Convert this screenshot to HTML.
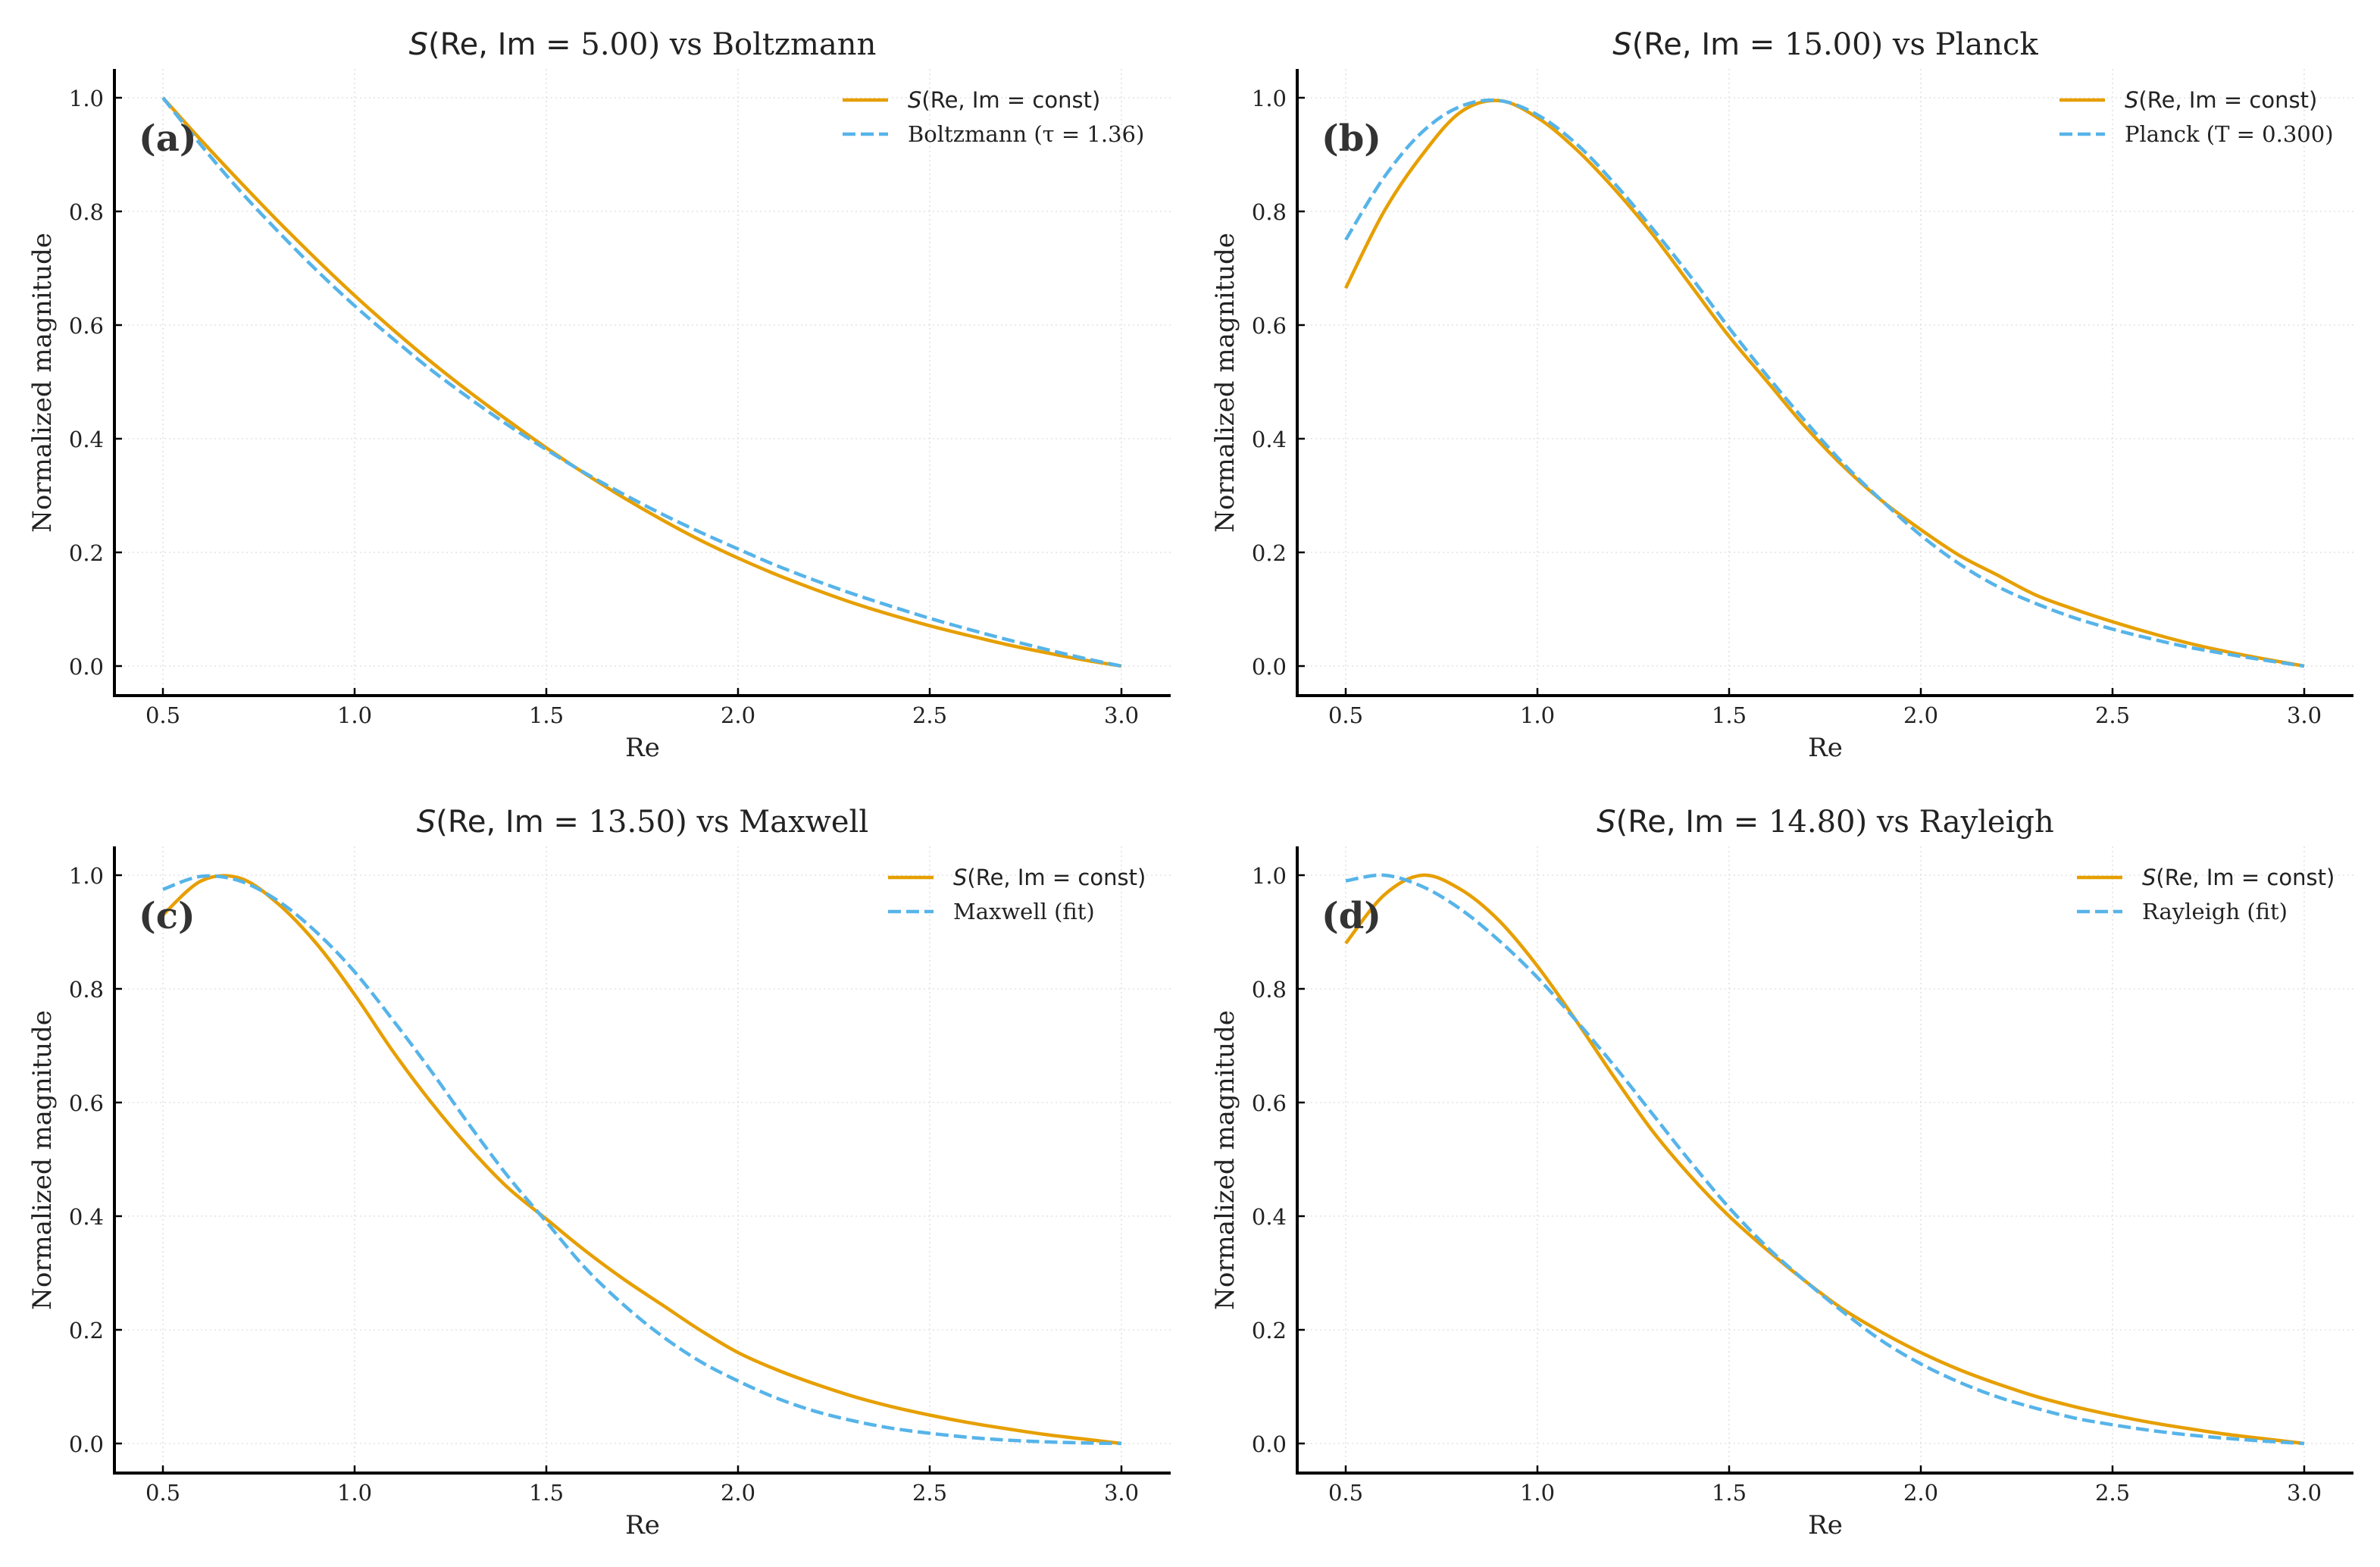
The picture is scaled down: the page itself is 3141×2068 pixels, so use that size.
<!DOCTYPE html>
<html><head><meta charset="utf-8"><style>
html,body{margin:0;padding:0;background:#fff;}
svg{display:block;}
</style></head><body>
<svg id="chart" width="3141" height="2068" viewBox="0 0 3141 2068" xmlns="http://www.w3.org/2000/svg"></svg>
<script>
const xs = [0.5,0.6,0.7,0.8,0.9,1.0,1.1,1.2,1.3,1.4,1.5,1.6,1.7,1.8,1.9,2.0,2.1,2.2,2.3,2.4,2.5,2.6,2.7,2.8,2.9,3.0];
const xTicks = [0.5,1.0,1.5,2.0,2.5,3.0];
const xTickLabels = ["0.5","1.0","1.5","2.0","2.5","3.0"];
const yTicks = [0,0.2,0.4,0.6,0.8,1.0];
const yTickLabels = ["0.0","0.2","0.4","0.6","0.8","1.0"];
const panelTitles = ["5.00) vs Boltzmann","15.00) vs Planck","13.50) vs Maxwell","14.80) vs Rayleigh"];
const panelTags = ["(a)","(b)","(c)","(d)"];
const fitLabels = ["Boltzmann (\u03C4 = 1.36)","Planck (T = 0.300)","Maxwell (fit)","Rayleigh (fit)"];
const sA = [1,.925,.853,.783,.716,.652,.592,.535,.482,.432,.384,.339,.297,.258,.222,.19,.161,.135,.111,.09,.071,.054,.038,.024,.011,0];
const fA = [1,.916,.837,.765,.697,.634,.576,.521,.471,.424,.381,.34,.303,.268,.236,.206,.177,.151,.127,.105,.084,.065,.047,.03,.014,0];
const sB = [.665,.8,.9,.975,.995,.965,.91,.84,.76,.67,.58,.5,.42,.35,.29,.24,.195,.16,.125,.1,.078,.058,.04,.025,.012,0];
const fB = [.75,.86,.94,.985,.995,.97,.92,.85,.77,.685,.595,.51,.43,.355,.29,.23,.18,.14,.11,.085,.065,.048,.033,.021,.01,0];
const sC = [.93,.99,.995,.95,.88,.79,.69,.6,.52,.45,.395,.34,.29,.245,.2,.16,.13,.105,.083,.065,.05,.037,.026,.016,.008,0];
const fC = [.975,.998,.99,.955,.9,.83,.745,.655,.56,.47,.39,.31,.245,.19,.145,.11,.08,.057,.04,.027,.018,.011,.006,.003,.001,0];
const sD = [.88,.965,1.0,.975,.92,.84,.745,.645,.55,.47,.4,.34,.285,.235,.195,.16,.13,.105,.083,.065,.05,.037,.026,.016,.008,0];
const fD = [.99,1.0,.98,.94,.885,.82,.745,.665,.58,.495,.415,.345,.285,.23,.18,.14,.108,.082,.062,.045,.033,.023,.015,.009,.004,0];
const seriesS = [sA,sB,sC,sD];
const seriesF = [fA,fB,fC,fD];

const NS = "http://www.w3.org/2000/svg";
const svg = document.getElementById('chart');
const SERIF = '"DejaVu Serif","Liberation Serif",serif';
const SANS = '"DejaVu Sans","Liberation Sans",sans-serif';
function mk(tag, attrs, parent){
  const e = document.createElementNS(NS, tag);
  for (const k in attrs) e.setAttribute(k, attrs[k]);
  (parent||svg).appendChild(e);
  return e;
}
const panels = [
  {sx:151, oy:0, leg:961},
  {sx:1712, oy:0, leg:1006},
  {sx:151, oy:1026, leg:1021},
  {sx:1712, oy:1026, leg:1029}
];
function pathFrom(pts){
  let d = "M"+pts[0][0].toFixed(1)+","+pts[0][1].toFixed(1);
  for (let i=0;i<pts.length-1;i++){
    const p0=pts[Math.max(0,i-1)], p1=pts[i], p2=pts[i+1], p3=pts[Math.min(pts.length-1,i+2)];
    const c1=[p1[0]+(p2[0]-p0[0])/6, p1[1]+(p2[1]-p0[1])/6];
    const c2=[p2[0]-(p3[0]-p1[0])/6, p2[1]-(p3[1]-p1[1])/6];
    d += " C"+c1[0].toFixed(1)+","+c1[1].toFixed(1)+" "+c2[0].toFixed(1)+","+c2[1].toFixed(1)+" "+p2[0].toFixed(1)+","+p2[1].toFixed(1);
  }
  return d;
}
panels.forEach((p, idx) => {
  const g = mk('g', {});
  
  
  const X = v => p.sx + 64 + (v - 0.5) * 506;
  const Y = v => p.oy + 129 + (1 - v) * 750;
  const left = p.sx, right = p.sx + 1394, top = p.oy + 91, bottom = p.oy + 918;
  xTicks.forEach(t => {
    const l = mk('line', {x1:X(t), x2:X(t), y1:top, y2:bottom, stroke:'#e3e3e3', 'stroke-width':1.6, 'stroke-dasharray':'2,4'}, g);
    
    
  });
  yTicks.forEach(t => {
    const l = mk('line', {x1:left, x2:right, y1:Y(t), y2:Y(t), stroke:'#e3e3e3', 'stroke-width':1.6, 'stroke-dasharray':'2,4'}, g);
    
    
  });
  const ptsS = xs.map((x,i)=>[X(x), Y(seriesS[idx][i])]);
  const ptsF = xs.map((x,i)=>[X(x), Y(seriesF[idx][i])]);
  const lS = mk('path', {d:pathFrom(ptsS), fill:'none', stroke:'#E69F00', 'stroke-width':4.5, 'stroke-linejoin':'round'}, g);
  
  
  const lF = mk('path', {d:pathFrom(ptsF), fill:'none', stroke:'#56B4E9', 'stroke-width':4.5, 'stroke-dasharray':'17,7'}, g);
  
  
  const sl = mk('line', {x1:left, x2:left, y1:top, y2:bottom+2, stroke:'#000', 'stroke-width':4}, g);
  
  
  const sb = mk('line', {x1:left-2, x2:right, y1:bottom, y2:bottom, stroke:'#000', 'stroke-width':4}, g);
  
  
  xTicks.forEach((t,i) => {
    const tk = mk('line', {x1:X(t), x2:X(t), y1:bottom, y2:bottom-10, stroke:'#000', 'stroke-width':2.5}, g);
    
    
    const tx = mk('text', {x:X(t), y:bottom+36, 'text-anchor':'middle', 'font-family':SERIF, 'font-size':29, fill:'#222'}, g);
    tx.textContent = xTickLabels[i];
    
    
  });
  yTicks.forEach((t,i) => {
    const tk = mk('line', {x1:left, x2:left+10, y1:Y(t), y2:Y(t), stroke:'#000', 'stroke-width':2.5}, g);
    
    
    const tx = mk('text', {x:left-14, y:Y(t)+11, 'text-anchor':'end', 'font-family':SERIF, 'font-size':29, fill:'#222'}, g);
    tx.textContent = yTickLabels[i];
    
    
  });
  const xl = mk('text', {x:(left+right)/2, y:p.oy+998, 'text-anchor':'middle', 'font-family':SERIF, 'font-size':34, fill:'#222'}, g);
  xl.textContent = 'Re';
  
  
  const yl = mk('text', {x:0, y:0, 'text-anchor':'middle', 'font-family':SERIF, 'font-size':34, fill:'#222', transform:'translate(67,'+(p.oy+505)+') rotate(-90)'}, g);
  yl.textContent = 'Normalized magnitude';
  
  
  if (idx % 2 === 1) yl.setAttribute('transform', 'translate('+(p.sx-84)+','+(p.oy+505)+') rotate(-90)');
  const ti = mk('text', {x:(left+right)/2, y:p.oy+72, 'text-anchor':'middle', 'font-size':40, fill:'#222'}, g);
  
  
  const t1 = mk('tspan', {'font-family':SANS, 'font-style':'italic'}, ti); t1.textContent = 'S';
  const t2 = mk('tspan', {'font-family':SANS}, ti); t2.textContent = '(Re, Im = ';
  const t3 = mk('tspan', {'font-family':SERIF}, ti);
  t3.textContent = panelTitles[idx];
  const tg = mk('text', {x:p.sx+32, y:p.oy+199, 'font-family':SERIF, 'font-weight':'bold', 'font-size':48, fill:'#333'}, g);
  tg.textContent = panelTags[idx];
  
  
  const lx = p.sx + p.leg;
  const le1 = mk('line', {x1:lx, x2:lx+60, y1:p.oy+132, y2:p.oy+132, stroke:'#E69F00', 'stroke-width':4.5}, g);
  
  
  const lt1 = mk('text', {x:lx+86, y:p.oy+142, 'font-family':SANS, 'font-size':29, fill:'#222'}, g);
  
  
  const a1 = mk('tspan', {'font-style':'italic'}, lt1); a1.textContent = 'S';
  const a2 = mk('tspan', {}, lt1); a2.textContent = '(Re, Im = const)';
  const le2 = mk('line', {x1:lx, x2:lx+60, y1:p.oy+177, y2:p.oy+177, stroke:'#56B4E9', 'stroke-width':4.5, 'stroke-dasharray':'17,7'}, g);
  
  
  const lt2 = mk('text', {x:lx+86, y:p.oy+187, 'font-family':SERIF, 'font-size':29, fill:'#222'}, g);
  lt2.textContent = fitLabels[idx];
  
  
});
</script>
</body></html>
